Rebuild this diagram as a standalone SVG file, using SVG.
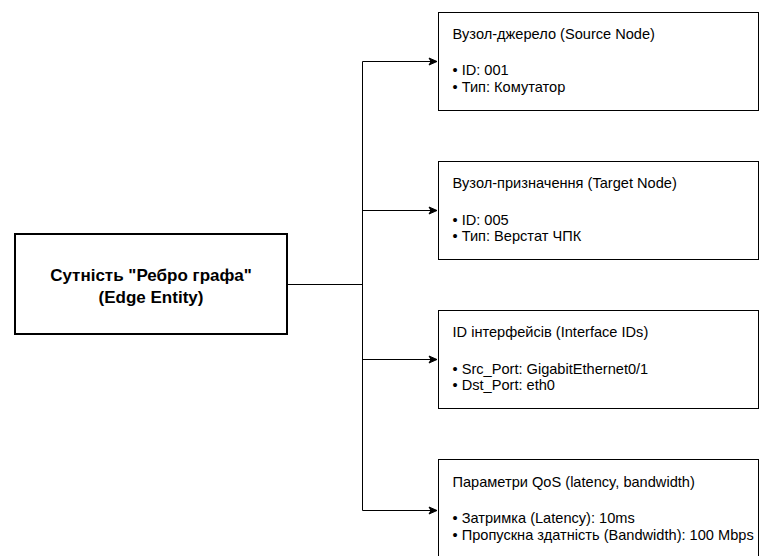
<svg xmlns="http://www.w3.org/2000/svg" width="762" height="556" viewBox="0 0 762 556">
<style>
.box{fill:#fff;stroke:#000;stroke-width:1}
.main{fill:#fff;stroke:#000;stroke-width:2}
.t{font-family:"Liberation Sans",Arial,sans-serif;font-size:14.6px;fill:#000}
.mt{font-family:"Liberation Sans",Arial,sans-serif;font-size:17px;font-weight:bold;fill:#000;text-anchor:middle}
.c{fill:none;stroke:#000;stroke-width:1}
</style>
<defs>
<marker id="ah" markerWidth="10" markerHeight="10" refX="9" refY="5" orient="auto" markerUnits="userSpaceOnUse">
<path d="M1,1.5 L9,5 L1,8.5 L3,5 Z" fill="#000" stroke="#000" stroke-width="1"/>
</marker>
</defs>
<g id="connectors">
<path class="c" d="M287,284.5 H362.5"/>
<path class="c" d="M362.5,510.5 V61.5 H437" marker-end="url(#ah)"/>
<path class="c" d="M362.5,210.5 H437" marker-end="url(#ah)"/>
<path class="c" d="M362.5,359.5 H437" marker-end="url(#ah)"/>
<path class="c" d="M362.5,510.5 H437" marker-end="url(#ah)"/>
</g>
<g id="edge-entity">
<rect class="main" x="15" y="234" width="272" height="100"/>
<text class="mt" x="151" y="281">Сутність "Ребро графа"</text>
<text class="mt" x="151" y="303">(Edge Entity)</text>
</g>
<g id="source-node">
<rect class="box" x="438.5" y="12.5" width="320" height="98"/>
<text class="t" x="452.5" y="38.5">Вузол-джерело (Source Node)</text>
<text class="t" x="452.5" y="75">• ID: 001</text>
<text class="t" x="452.5" y="91.5">• Тип: Комутатор</text>
</g>
<g id="target-node">
<rect class="box" x="438.5" y="161.5" width="320" height="98"/>
<text class="t" x="452.5" y="188">Вузол-призначення (Target Node)</text>
<text class="t" x="452.5" y="224.5">• ID: 005</text>
<text class="t" x="452.5" y="241">• Тип: Верстат ЧПК</text>
</g>
<g id="interface-ids">
<rect class="box" x="438.5" y="310.5" width="320" height="98"/>
<text class="t" x="452.5" y="337">ID інтерфейсів (Interface IDs)</text>
<text class="t" x="452.5" y="373.5">• Src_Port: GigabitEthernet0/1</text>
<text class="t" x="452.5" y="390">• Dst_Port: eth0</text>
</g>
<g id="qos">
<rect class="box" x="438.5" y="459.5" width="320" height="100"/>
<text class="t" x="452.5" y="486.5">Параметри QoS (latency, bandwidth)</text>
<text class="t" x="452.5" y="523">• Затримка (Latency): 10ms</text>
<text class="t" x="452.5" y="539.5">• Пропускна здатність (Bandwidth): 100 Mbps</text>
</g>
</svg>
